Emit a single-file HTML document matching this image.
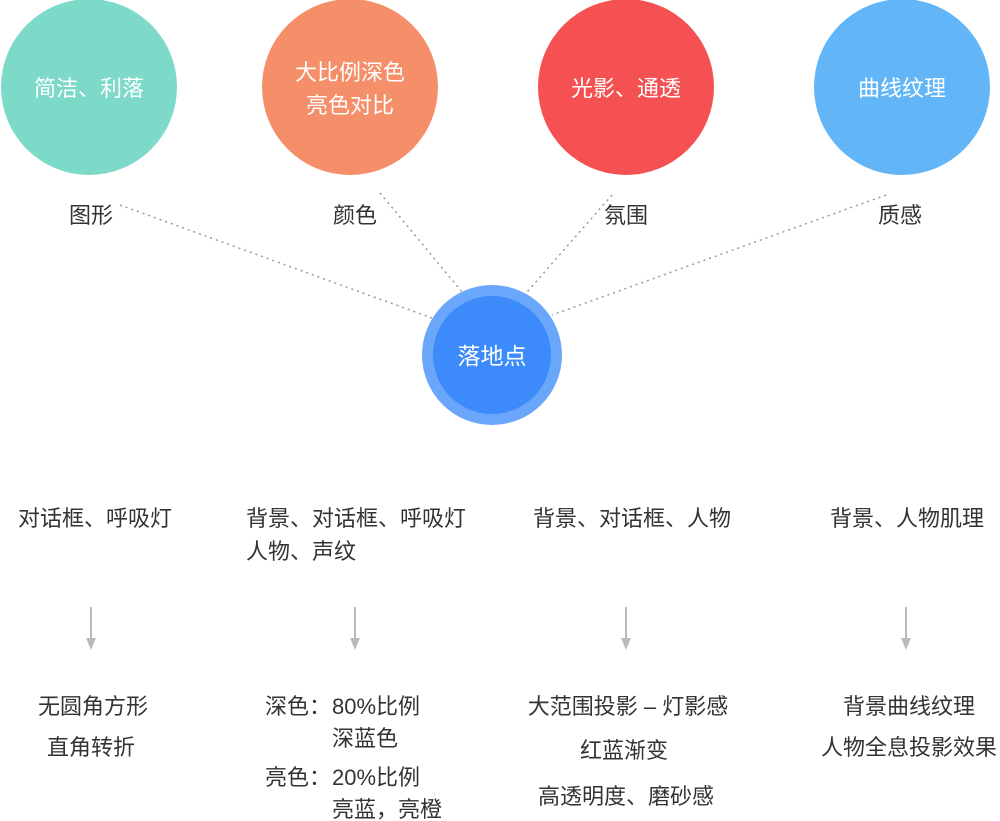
<!DOCTYPE html>
<html><head><meta charset="utf-8"><style>
html,body{margin:0;padding:0;background:#fff;}
svg{display:block;font-family:"Liberation Sans","Noto Sans CJK SC",sans-serif;}
</style></head><body>
<svg width="1000" height="821" viewBox="0 0 1000 821" xmlns="http://www.w3.org/2000/svg">
<g stroke="#999" stroke-width="1.5" stroke-dasharray="2,4" fill="none">
<line x1="120" y1="205" x2="432" y2="318"/>
<line x1="380" y1="193" x2="462" y2="292"/>
<line x1="612" y1="195" x2="527" y2="292"/>
<line x1="886" y1="195" x2="552" y2="315"/>
</g>
<circle cx="89" cy="87" r="88" fill="#7DD9C8"/>
<circle cx="350" cy="87" r="88" fill="#F58F6A"/>
<circle cx="626" cy="87" r="88" fill="#F55152"/>
<circle cx="902" cy="87" r="88" fill="#62B6F7"/>
<g fill="#fff" font-size="22" text-anchor="middle">
<text x="89" y="96">简洁、利落</text>
<text x="350" y="80">大比例深色</text>
<text x="350" y="113">亮色对比</text>
<text x="626" y="96">光影、通透</text>
<text x="902" y="96">曲线纹理</text>
</g>
<g fill="#333" font-size="22" text-anchor="middle">
<text x="91" y="223">图形</text>
<text x="355" y="223">颜色</text>
<text x="626" y="223">氛围</text>
<text x="900" y="223">质感</text>
</g>
<circle cx="492" cy="355" r="70" fill="#6AA6FA"/>
<circle cx="492" cy="355" r="59" fill="#3D8BFA"/>
<text x="492" y="364" fill="#fff" font-size="23" text-anchor="middle">落地点</text>
<g fill="#333" font-size="22">
<text x="95" y="526" text-anchor="middle">对话框、呼吸灯</text>
<text x="246" y="526">背景、对话框、呼吸灯</text>
<text x="246" y="559">人物、声纹</text>
<text x="632" y="526" text-anchor="middle">背景、对话框、人物</text>
<text x="907" y="526" text-anchor="middle">背景、人物肌理</text>
</g>
<g stroke="#bbb" stroke-width="2">
<line x1="91" y1="607" x2="91" y2="640"/>
<line x1="355" y1="607" x2="355" y2="640"/>
<line x1="626" y1="607" x2="626" y2="640"/>
<line x1="906" y1="607" x2="906" y2="640"/>
</g>
<g fill="#bbb">
<polygon points="86,638 96,638 91,650"/>
<polygon points="350,638 360,638 355,650"/>
<polygon points="621,638 631,638 626,650"/>
<polygon points="901,638 911,638 906,650"/>
</g>
<g fill="#333" font-size="22">
<text x="93" y="714" text-anchor="middle">无圆角方形</text>
<text x="91" y="755" text-anchor="middle">直角转折</text>
<text x="265" y="714">深色：</text>
<text x="332" y="714">80%比例</text>
<text x="332" y="746">深蓝色</text>
<text x="265" y="785">亮色：</text>
<text x="332" y="785">20%比例</text>
<text x="332" y="817">亮蓝，亮橙</text>
<text x="628" y="714" text-anchor="middle">大范围投影 – 灯影感</text>
<text x="624" y="758" text-anchor="middle">红蓝渐变</text>
<text x="626" y="804" text-anchor="middle">高透明度、磨砂感</text>
<text x="909" y="714" text-anchor="middle">背景曲线纹理</text>
<text x="909" y="755" text-anchor="middle">人物全息投影效果</text>
</g>
</svg>
</body></html>
